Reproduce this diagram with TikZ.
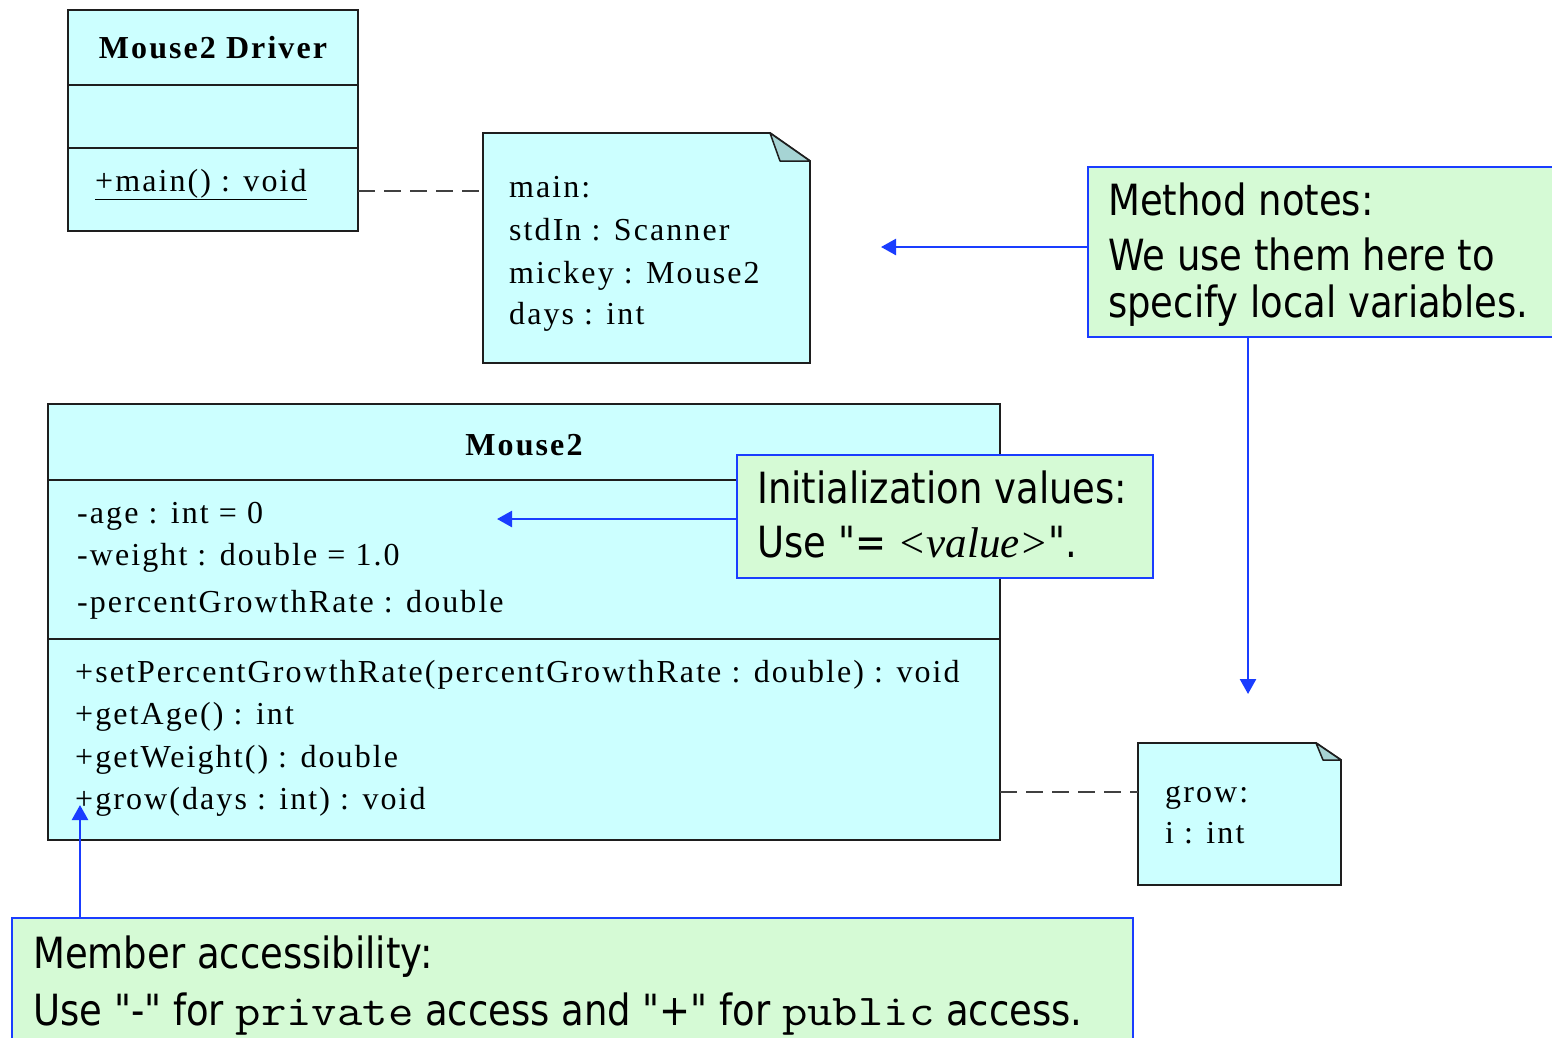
\documentclass[tikz,border=0pt]{standalone}
\usepackage{fontspec}
\usetikzlibrary{arrows.meta,calc}
\newfontfamily\umlfont[LetterSpace=6.5]{Liberation Serif}
\newfontfamily\valfont{Liberation Serif}
\newfontfamily\callfont[FakeStretch=0.86]{DejaVu Sans}
\newcommand\codeword[1]{\scalebox{1.12}[1]{\ttfamily\fontsize{44}{44}\selectfont #1}}
\newcommand\dq{\char34\relax}
\definecolor{umlfill}{HTML}{CCFFFF}
\definecolor{umlline}{HTML}{1E1E1E}
\definecolor{foldfill}{HTML}{A6D4D4}
\definecolor{callfill}{HTML}{D5FAD5}
\definecolor{callblue}{HTML}{1A3DFF}
\tikzset{
  umlbox/.style={draw=umlline, line width=1.9pt, fill=umlfill, inner sep=0pt, outer sep=0pt, anchor=north west},
  umlrule/.style={draw=umlline, line width=1.9pt},
  umltext/.style={anchor=base west, inner sep=0pt, font=\umlfont\fontsize{32}{32}\selectfont},
  umlhead/.style={anchor=base, inner sep=0pt, font=\umlfont\bfseries\fontsize{32}{32}\selectfont},
  noteframe/.style={inner sep=0pt, outer sep=0pt, anchor=north west},
  notedraw/.style={draw=umlline, line width=1.9pt, fill=umlfill, line join=miter},
  foldpart/.style={draw=umlline, line width=1.5pt, fill=foldfill, line join=round},
  callbox/.style={draw=callblue, line width=2pt, fill=callfill, inner sep=0pt, outer sep=0pt, anchor=north west},
  calltext/.style={anchor=base west, inner sep=0pt, font=\callfont\fontsize{43}{43}\selectfont},
  pointer/.style={draw=callblue, line width=2.5pt, -{Triangle[length=15pt,width=16pt]}},
  linkdash/.style={draw=umlline!85, line width=2pt, dash pattern=on 17pt off 9pt}
}
\begin{document}
\begin{tikzpicture}[x=1pt,y=-1pt]
\useasboundingbox (0,0) rectangle (1552,1037);
\fill[white] (0,0) rectangle (1552,1037);

% ---- class Mouse2Driver ----
\node[umlbox, minimum width=290pt, minimum height=221pt] (drv) at (68,10) {};
\draw[umlrule] ($(drv.north west)+(0,75)$) -- ($(drv.north east)+(0,75)$);
\draw[umlrule] ($(drv.north west)+(0,138)$) -- ($(drv.north east)+(0,138)$);
\node[umlhead] (drvname) at ($(drv.north)+(0,48)$) {Mouse2 Driver};
\node[umltext] (drvmain) at (95,191) {\underline{+main() : void}};

% ---- note for main ----
\node[noteframe, minimum width=327pt, minimum height=230pt] (noteA) at (483,133) {};
\draw[notedraw] (noteA.north west) -- ($(noteA.north east)+(-40,0)$) -- ($(noteA.north east)+(0,28)$)
  -- (noteA.south east) -- (noteA.south west) -- cycle;
\filldraw[foldpart] ($(noteA.north east)+(-40,0)$) -- ($(noteA.north east)+(-30,28)$) -- ($(noteA.north east)+(0,28)$) -- cycle;
\node[umltext] (na1) at (509,197) {main:};
\node[umltext] (na2) at (509,240) {stdIn : Scanner};
\node[umltext] (na3) at (509,283) {mickey : Mouse2};
\node[umltext] (na4) at (509,324) {days : int};

\coordinate (dlA) at (0,191);
\draw[linkdash] (drv.east |- dlA) -- (noteA.west |- dlA);

% ---- class Mouse2 ----
\node[umlbox, minimum width=952pt, minimum height=436pt] (mouse) at (48,404) {};
\draw[umlrule] ($(mouse.north west)+(0,76)$) -- ($(mouse.north east)+(0,76)$);
\draw[umlrule] ($(mouse.north west)+(0,235)$) -- ($(mouse.north east)+(0,235)$);
\node[umlhead] (mousename) at ($(mouse.north)+(0,51)$) {Mouse2};
\node[umltext] (at1) at (77,523) {-age : int = 0};
\node[umltext] (at2) at (77,565) {-weight : double = 1.0};
\node[umltext] (at3) at (77,612) {-percentGrowthRate : double};
\node[umltext] (op1) at (75,682) {+setPercentGrowthRate(percentGrowthRate : double) : void};
\node[umltext] (op2) at (75,724) {+getAge() : int};
\node[umltext] (op3) at (75,767) {+getWeight() : double};
\node[umltext] (op4) at (75,809) {+grow(days : int) : void};

% ---- note for grow ----
\node[noteframe, minimum width=203pt, minimum height=142pt] (noteB) at (1138,743) {};
\draw[notedraw] (noteB.north west) -- ($(noteB.north east)+(-25,0)$) -- ($(noteB.north east)+(0,17)$)
  -- (noteB.south east) -- (noteB.south west) -- cycle;
\filldraw[foldpart] ($(noteB.north east)+(-25,0)$) -- ($(noteB.north east)+(-18,17)$) -- ($(noteB.north east)+(0,17)$) -- cycle;
\node[umltext] (nb1) at (1165,802) {grow:};
\node[umltext] (nb2) at (1165,843) {i : int};

\coordinate (dlB) at (0,792);
\draw[linkdash] (mouse.east |- dlB) -- (noteB.west |- dlB);

% ---- callout: initialization values ----
\node[callbox, minimum width=416pt, minimum height=123pt] (initbox) at (737,455) {};
\node[calltext] (init1) at (757,503) {Initialization values:};
\node[calltext] (init2) at (757,557) {Use \dq= {\valfont\itshape <value>}\dq.};
\coordinate (initTip) at (497,519);
\draw[pointer] (initbox.west |- initTip) -- (initTip);

% ---- callout: method notes ----
\node[callbox, minimum width=480pt, minimum height=170pt] (mnbox) at (1088,167) {};
\node[calltext] (mn1) at (1108,215) {Method notes:};
\node[calltext] (mn2) at (1108,270) {We use them here to};
\node[calltext] (mn3) at (1108,317) {specify local variables.};
\coordinate (mnTipA) at (881,247);
\coordinate (mnTipB) at (1248,694);
\draw[pointer] (mnbox.west |- mnTipA) -- (mnTipA);
\draw[pointer] (mnbox.south -| mnTipB) -- (mnTipB);

% ---- callout: member accessibility ----
\node[callbox, minimum width=1121pt, minimum height=130pt] (accbox) at (12,918) {};
\node[calltext] (acc1) at (33,968) {Member accessibility:};
\node[calltext] (acc2) at (33,1025) {Use \dq-\dq{} for \codeword{private} access and \dq+\dq{} for \codeword{public} access.};
\coordinate (accTip) at (80,805);
\draw[pointer] (accbox.north -| accTip) -- (accTip);
\end{tikzpicture}
\end{document}
